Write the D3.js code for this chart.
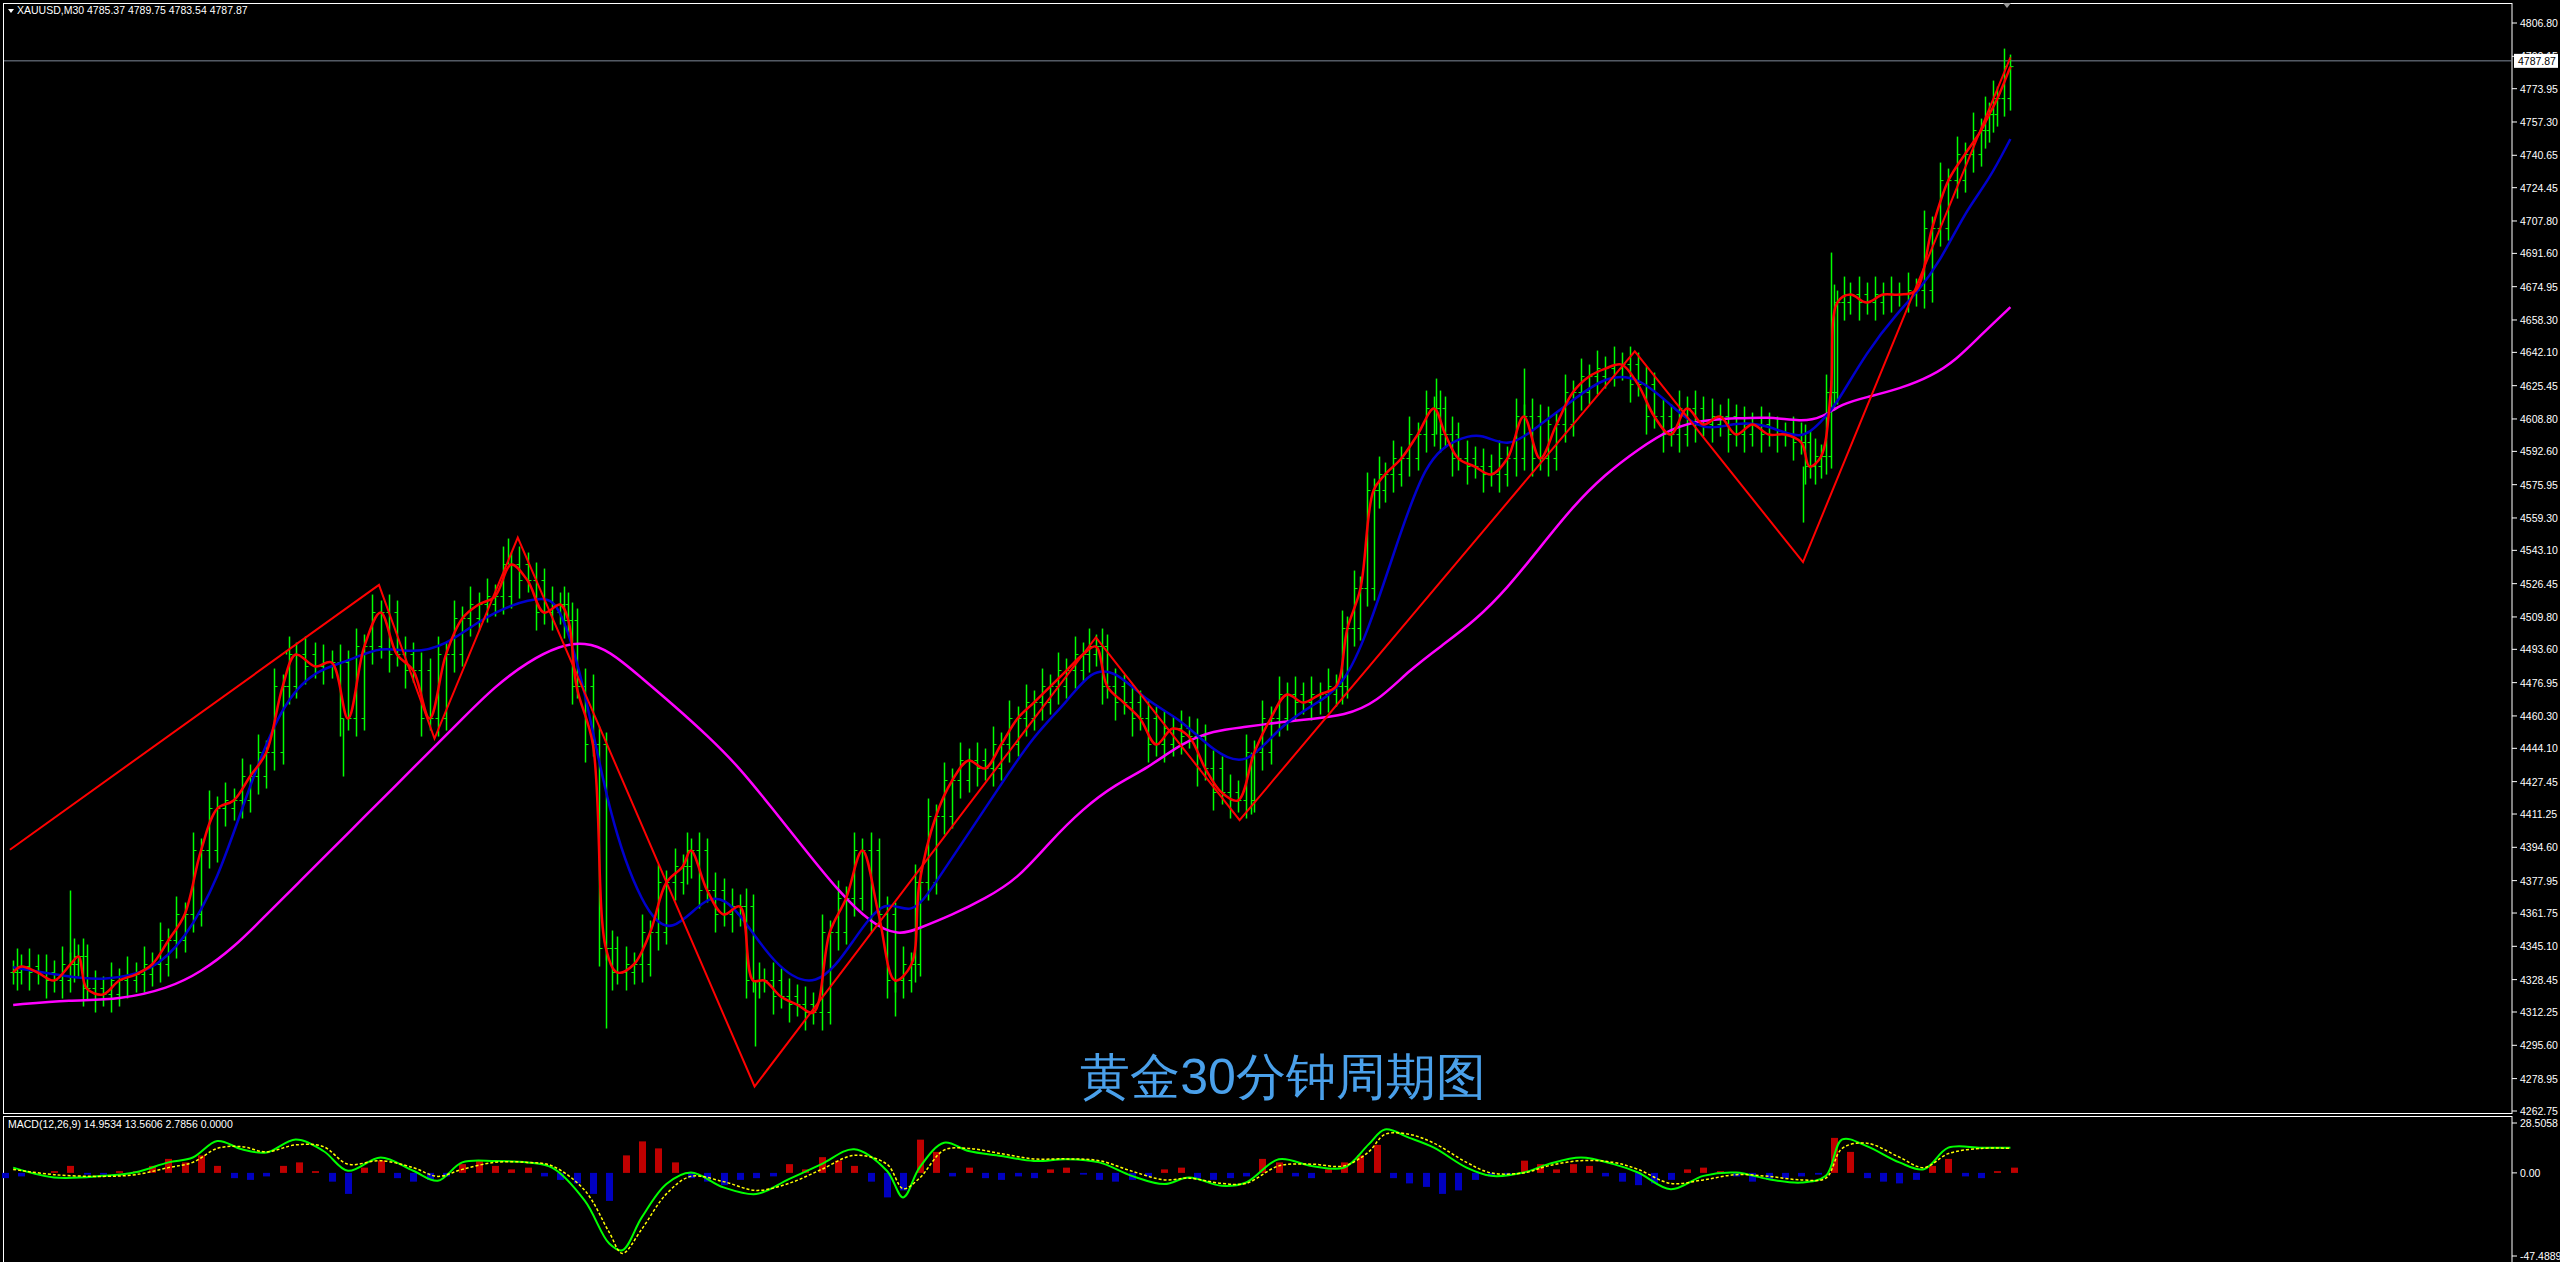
<!DOCTYPE html>
<html>
<head>
<meta charset="utf-8">
<script src="https://d3js.org/d3.v7.min.js"></script>
<style>
  body { margin: 0; background: #000; }
  text { font-family: 'Liberation Sans', Arial, sans-serif; }
</style>
</head>
<body>
<svg id="chart" width="2560" height="1262"></svg>
<script>
// bar positions are in chart "slots" (0..1240 across the data area)
var closeX = [5,10,20,30,40,45,50,60,70,80,90,100,110,120,130,140,150,160,170,178,190,200,210,220,230,240,250,260,270,280,290,300,310,320,330,340,345,350,360,368,375,385,395,405,415,420,430,440,450,458,465,475,485,495,505,515,525,535,545,555,560,570,580,590,600,610,620,630,640,650,660,668,675,685,695,705,715,725,735,745,755,765,775,785,795,805,815,822,830,838,845,855,865,875,882,890,900,910,920,930,940,950,960,970,980,990,1000,1010,1020,1030,1040,1050,1060,1070,1080,1090,1100,1105,1112,1118,1122,1130,1140,1150,1160,1170,1180,1190,1200,1210,1215,1220,1228];
var closeP = [4332,4335,4332,4328,4336,4340,4324,4321,4328,4331,4336,4348,4361,4393,4414,4418,4430,4442,4475,4491,4485,4487,4459,4495,4512,4491,4483,4459,4491,4509,4516,4520,4536,4528,4512,4516,4508,4475,4446,4344,4332,4336,4352,4377,4385,4393,4373,4361,4365,4328,4328,4320,4316,4312,4352,4369,4393,4361,4328,4336,4377,4410,4428,4438,4434,4446,4459,4467,4475,4483,4491,4495,4475,4467,4459,4446,4454,4450,4434,4422,4418,4442,4459,4471,4467,4471,4475,4504,4524,4573,4581,4589,4601,4614,4601,4589,4585,4581,4589,4610,4589,4606,4622,4630,4634,4636,4626,4610,4601,4614,4606,4610,4601,4606,4601,4601,4597,4585,4590,4622,4667,4671,4667,4671,4671,4673,4704,4728,4741,4753,4761,4769,4785];

var wickX = [40,172,207,308,368,459,545,763,876,930,1101,1118];
var wickP = [4373,4493,4430,4549,4304,4295,4310,4411,4629,4634,4557,4692];

var blueX = [5,40,60,90,110,130,150,170,190,210,230,250,270,290,310,330,340,355,370,390,408,432,450,470,497,520,539,555,570,590,610,630,650,665,680,700,720,740,760,780,800,820,835,850,870,890,905,920,940,960,980,1000,1020,1040,1060,1080,1100,1112,1120,1140,1160,1170,1185,1200,1215,1228];
var blueP = [4334.6,4329.7,4328.1,4332.2,4348.5,4377.1,4426.1,4467.0,4483.3,4487.4,4495.6,4491.5,4495.6,4507.8,4516.0,4520.1,4516.0,4475.1,4409.8,4364.9,4348.5,4374.7,4362.4,4336.2,4321.6,4348.5,4370.6,4359.2,4377.1,4401.6,4426.1,4450.6,4467.0,4483.3,4483.3,4467.0,4458.8,4442.5,4434.3,4454.8,4465.3,4475.1,4503.7,4540.5,4589.5,4599.3,4601.8,4593.6,4605.9,4618.1,4630.3,4630.3,4615.6,4601.8,4607.5,4605.9,4597.7,4607.5,4614.0,4642.6,4663.0,4671.2,4687.5,4712.0,4728.4,4748.8];

var pinkX = [5,40,70,100,120,140,160,180,200,220,240,260,280,300,320,340,355,370,390,410,430,450,470,490,510,530,547,560,580,600,620,640,660,680,700,720,740,760,780,800,820,840,860,880,900,920,940,960,980,1000,1020,1040,1060,1080,1100,1112,1125,1140,1160,1180,1195,1210,1228];
var pinkP = [4315.8,4318.3,4318.3,4324.0,4332.2,4344.4,4360.8,4377.1,4393.4,4409.8,4426.1,4442.5,4458.8,4475.1,4487.4,4495.6,4497.2,4493.1,4479.2,4465.3,4450.6,4434.3,4413.9,4393.4,4373.0,4356.7,4350.2,4354.2,4360.8,4368.9,4378.7,4397.5,4413.9,4426.1,4434.3,4446.5,4453.1,4454.7,4457.2,4458.8,4460.4,4467.0,4483.3,4495.6,4507.8,4524.2,4544.6,4565.0,4581.3,4593.6,4604.2,4608.3,4609.1,4609.9,4607.5,4609.1,4616.5,4619.7,4623.8,4630.3,4638.5,4650.8,4664.7];

var zigX = [3,229,263,314,459,668,756,998,1101,1228];
var zigP = [4393.4,4525.8,4449.0,4549.5,4275.0,4499.6,4408.2,4642.6,4537.2,4789.6];

var priceTicks = [4806.80,4790.15,4773.95,4757.30,4740.65,4724.45,4707.80,4691.60,4674.95,4658.30,4642.10,4625.45,4608.80,4592.60,4575.95,4559.30,4543.10,4526.45,4509.80,4493.60,4476.95,4460.30,4444.10,4427.45,4411.25,4394.60,4377.95,4361.75,4345.10,4328.45,4312.25,4295.60,4278.95,4262.75];
var lastPrice = 4787.87;

var macdX = [5,30,60,80,100,115,130,145,160,178,195,210,230,250,265,280,300,320,335,355,370,378,390,405,420,440,460,480,500,520,540,550,560,575,590,610,630,650,670,690,710,725,745,760,780,800,820,835,845,860,875,895,910,930,945,965,985,1000,1020,1040,1060,1080,1100,1115,1125,1140,1160,1175,1190,1210,1228];
var macdMain = [3.0,-2.6,-1.7,0.4,6.0,8.8,18.2,13.5,11.6,19.1,12.5,1.2,8.8,1.2,-4.5,6.0,6.8,6.0,3.0,-15.9,-40.4,-44.2,-25.3,-6.4,0.2,-8.3,-12.1,-3.6,5.0,13.5,1.2,-14.0,3.0,17.2,12.5,9.7,6.8,7.8,6.0,-1.7,-6.4,-2.6,-7.4,-5.5,7.8,4.0,3.0,16.3,24.8,20.0,14.4,3.0,-1.7,0.2,5.0,8.8,5.0,0.2,-9.3,-1.7,0.2,-3.6,-5.5,-1.7,19.1,15.3,6.0,2.1,14.4,14.4,14.4];
var macdSignal = [2,-1,-2,-1,3,6,14,15,12,16,15,5,7,3,-2,2,6,6,4,-10,-34,-46,-32,-12,-2,-5,-10,-6,2,10,5,-9,-3,13,14,11,8,8,7,1,-4,-3,-6,-6,4,5,4,12,22,22,17,6,0,0,4,7,6,2,-6,-4,-1,-2,-4,-3,14,17,9,3,11,14,14];
var histX = d3.range(0, 1240, 10);
var histV = [-3,-2,0,1,4,-1,-1,1,1,4,8,6,10,4,-3,-4,-2,4,6,1,-5,-12,3,7,-3,-5,-4,-2,5,7,4,2,3,-2,-4,-6,-12,-16,10,18,14,6,-3,-5,-7,-4,-3,-2,5,2,9,7,4,-5,-14,-10,19,12,-2,3,-3,-4,-2,-3,2,3,-1,-4,-5,-4,-2,2,3,-3,-4,-3,-2,8,6,-2,-3,2,6,10,16,-3,-6,-8,-12,-10,-4,-2,-1,7,5,2,5,4,-2,-5,-7,-6,-4,2,3,1,-2,-5,-4,-3,-2,-1,20,12,-3,-5,-6,-4,4,8,-2,-3,1,3];
var macdLabel = 'MACD(12,26,9) 14.9534 13.5606 2.7856 0.0000';
var macdTicks = [28.5058, 0.00, -47.4889];

var svg = d3.select('#chart');
var W = 2560, H = 1262, plotR = 2512;
svg.append('rect').attr('width', W).attr('height', H).attr('fill', '#000');

var x = d3.scaleLinear().domain([0, 1240]).range([5, 2030]);
var y = d3.scaleLinear().domain([4262.75, 4806.80]).range([1111, 23]);
var ym = d3.scaleLinear().domain([-47.4889, 28.5058]).range([1256, 1123]);

// frames
svg.append('rect').attr('x', 3.5).attr('y', 3.5).attr('width', plotR - 3.5).attr('height', 1110)
  .attr('fill', 'none').attr('stroke', '#fff');
svg.append('rect').attr('x', 3.5).attr('y', 1116.5).attr('width', plotR - 3.5).attr('height', 150)
  .attr('fill', 'none').attr('stroke', '#fff');

var main = svg.append('g');

// last price line
main.append('line').attr('x1', 4).attr('x2', plotR).attr('y1', y(lastPrice)).attr('y2', y(lastPrice))
  .attr('stroke', '#7f8a99').attr('stroke-width', 1);

// bars: one at each close, one between consecutive closes spanning both
function bar(px, hi, lo, o, c) {
  px = Math.round(px) + 0.5;
  main.append('line').attr('x1', px).attr('x2', px).attr('y1', y(hi)).attr('y2', y(lo))
    .attr('stroke', '#00ff00').attr('stroke-width', 1.5);
  main.append('line').attr('x1', px - 3).attr('x2', px).attr('y1', y(o)).attr('y2', y(o)).attr('stroke', '#00ff00');
  main.append('line').attr('x1', px).attr('x2', px + 3).attr('y1', y(c)).attr('y2', y(c)).attr('stroke', '#00ff00');
}
closeX.forEach(function(cx, i) {
  var prev = i > 0 ? closeP[i - 1] : closeP[i];
  var hi = Math.max(prev, closeP[i]), lo = Math.min(prev, closeP[i]);
  if (i > 0) bar((x(cx) + x(closeX[i - 1])) / 2, hi + 9, lo - 9, prev, closeP[i]);
  bar(x(cx), hi + 6, lo - 6, prev, closeP[i]);
});
wickX.forEach(function(wx, i) {
  var j = Math.min(d3.bisectLeft(closeX, wx), closeX.length - 1);
  var px = Math.round(x(wx)) + 0.5;
  main.append('line').attr('x1', px).attr('x2', px).attr('y1', y(closeP[j])).attr('y2', y(wickP[i]))
    .attr('stroke', '#00ff00').attr('stroke-width', 1.5);
});

function series(xs, ps, color, w, curve) {
  var line = d3.line().x(function(d) { return x(d[0]); }).y(function(d) { return y(d[1]); }).curve(curve);
  main.append('path').datum(xs.map(function(v, i) { return [v, ps[i]]; }))
    .attr('d', line).attr('fill', 'none').attr('stroke', color).attr('stroke-width', w);
}
series(pinkX, pinkP, '#ff00ff', 2.5, d3.curveBasis);
series(blueX, blueP, '#0000cc', 2.5, d3.curveBasis);
series(closeX, closeP, '#ff0000', 2.5, d3.curveCatmullRom);
series(zigX, zigP, '#ff0000', 2, d3.curveLinear);

// price axis
var ax = svg.append('g');
priceTicks.forEach(function(t) {
  ax.append('line').attr('x1', plotR).attr('x2', plotR + 5).attr('y1', y(t)).attr('y2', y(t)).attr('stroke', '#fff');
  ax.append('text').attr('x', plotR + 8).attr('y', y(t) + 4).attr('fill', '#fff')
    .attr('font-size', 10.5).text(t.toFixed(2));
});
ax.append('rect').attr('x', plotR + 2).attr('y', y(lastPrice) - 7).attr('width', 44).attr('height', 14).attr('fill', '#fff');
ax.append('text').attr('x', plotR + 6).attr('y', y(lastPrice) + 4).attr('fill', '#000')
  .attr('font-size', 10.5).text(lastPrice.toFixed(2));

// header
svg.append('path').attr('d', 'M8,9 L14,9 L11,13 Z').attr('fill', '#fff');
svg.append('text').attr('x', 17).attr('y', 14).attr('fill', '#fff').attr('font-size', 10.5)
  .text('XAUUSD,M30  4785.37 4789.75 4783.54 4787.87');
svg.append('path').attr('d', 'M2003,3 L2011,3 L2007,8 Z').attr('fill', '#9a9a9a');

// title
svg.append('text').attr('x', 1283).attr('y', 1094).attr('text-anchor', 'middle')
  .attr('fill', '#4aa0ea').attr('font-size', 50)
  .attr('font-family', "'Noto Sans CJK SC', sans-serif").text('黄金30分钟周期图');

// MACD pane
var mg = svg.append('g');
histX.forEach(function(hx, i) {
  var v = histV[i];
  if (v === undefined) return;
  var px = Math.round(x(hx)) + 0.5;
  mg.append('line').attr('x1', px).attr('x2', px).attr('y1', ym(0)).attr('y2', ym(v))
    .attr('stroke', v >= 0 ? '#c00000' : '#0000c0').attr('stroke-width', 7);
});
var mline = d3.line().x(function(d) { return x(d[0]); }).y(function(d) { return ym(d[1]); }).curve(d3.curveCatmullRom);
mg.append('path').datum(macdX.map(function(v, i) { return [v, macdMain[i]]; }))
  .attr('d', mline).attr('fill', 'none').attr('stroke', '#00ff00').attr('stroke-width', 2);
mg.append('path').datum(macdX.map(function(v, i) { return [v, macdSignal[i]]; }))
  .attr('d', mline).attr('fill', 'none').attr('stroke', '#ffff00').attr('stroke-width', 1.5)
  .attr('stroke-dasharray', '3,2');
mg.append('text').attr('x', 8).attr('y', 1128).attr('fill', '#fff').attr('font-size', 10.5).text(macdLabel);
macdTicks.forEach(function(t) {
  mg.append('line').attr('x1', plotR).attr('x2', plotR + 5).attr('y1', ym(t)).attr('y2', ym(t)).attr('stroke', '#fff');
  mg.append('text').attr('x', plotR + 8).attr('y', ym(t) + 4).attr('fill', '#fff')
    .attr('font-size', 10.5).text(t === 0 ? '0.00' : t.toFixed(4));
});
</script>
</body>
</html>
